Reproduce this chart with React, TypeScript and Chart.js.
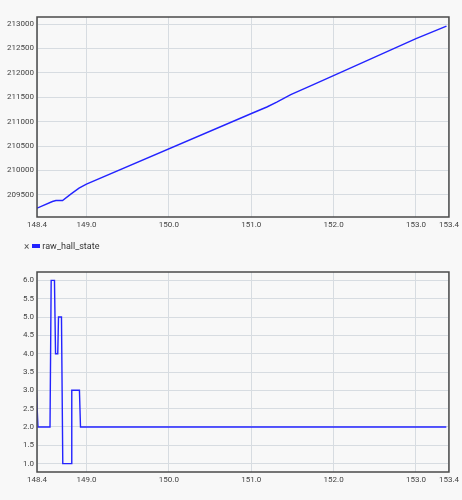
import React, { useEffect, useRef } from "react";
import { Chart, registerables } from "chart.js";

Chart.register(...registerables);

// X axis (time) ticks shared by both panels
const xTicks = [148.4, 149.0, 150.0, 151.0, 152.0, 153.0, 153.4];
const xMin = 148.4;
const xMax = 153.4;

// Top panel: counter value over time
const topYTicks = [209500, 210000, 210500, 211000, 211500, 212000, 212500, 213000];
const topYMin = 209045;
const topYMax = 213145;
const topTimes = [148.4, 148.587, 148.63, 148.71, 148.81, 148.91, 149.0, 151.01, 151.19, 151.31, 151.48, 151.72, 152.08, 153.0, 153.37];
const topValues = [209225, 209363, 209383, 209383, 209514, 209637, 209718, 211172, 211300, 211400, 211555, 211731, 212003, 212700, 212959];

// Bottom panel: raw_hall_state
const hallLabel = "raw_hall_state";
const bottomYTicks = [1.0, 1.5, 2.0, 2.5, 3.0, 3.5, 4.0, 4.5, 5.0, 5.5, 6.0];
const bottomYMin = 0.77;
const bottomYMax = 6.23;
const hallTimes = [148.392, 148.412, 148.558, 148.572, 148.612, 148.625, 148.652, 148.661, 148.697, 148.713, 148.818, 148.822, 148.915, 148.928, 153.368];
const hallValues = [3.0, 2.0, 2.0, 6.0, 6.0, 4.0, 4.0, 5.0, 5.0, 1.0, 1.0, 3.0, 3.0, 2.0, 2.0];

const LINE_COLOR = "#2323ff";
const GRID_COLOR = "#d7dce1";
const FRAME_COLOR = "#4a4a4a";
const TEXT_COLOR = "#444444";
const BG = "#f8f8f8";
const FONT = "Roboto";

const framePlugin = {
  id: "frame",
  afterDraw(chart: any) {
    const { ctx, chartArea } = chart;
    ctx.save();
    ctx.strokeStyle = FRAME_COLOR;
    ctx.lineWidth = 1.5;
    ctx.strokeRect(chartArea.left, chartArea.top, chartArea.right - chartArea.left, chartArea.bottom - chartArea.top);
    ctx.restore();
  },
};

function makeConfig(times: number[], values: number[], yTicks: number[], yMin: number, yMax: number, yFmt: (v: number) => string, label: string) {
  return {
    type: "line" as const,
    data: {
      datasets: [
        {
          label,
          data: times.map((t, i) => ({ x: t, y: values[i] })),
          borderColor: LINE_COLOR,
          backgroundColor: LINE_COLOR,
          borderWidth: 1.4,
          pointRadius: 0,
          tension: 0,
          fill: false,
        },
      ],
    },
    options: {
      responsive: false,
      maintainAspectRatio: false,
      animation: false,
      layout: { padding: { top: 17, right: 11, left: 0, bottom: 3 } },
      plugins: { legend: { display: false }, tooltip: { enabled: false } },
      scales: {
        x: {
          type: "linear",
          min: xMin,
          max: xMax,
          afterBuildTicks: (s: any) => {
            s.ticks = xTicks.map((v) => ({ value: v }));
          },
          afterFit: (s: any) => {
            s.height = 20;
          },
          grid: { color: GRID_COLOR, drawTicks: false, lineWidth: 1 },
          border: { display: false },
          ticks: {
            autoSkip: false,
            maxRotation: 0,
            padding: 3,
            color: TEXT_COLOR,
            font: { family: FONT, size: 8 },
            callback: (v: any) => Number(v).toFixed(1),
          },
        },
        y: {
          type: "linear",
          min: yMin,
          max: yMax,
          afterBuildTicks: (s: any) => {
            s.ticks = yTicks.map((v) => ({ value: v }));
          },
          afterFit: (s: any) => {
            s.width = 37;
          },
          grid: { color: GRID_COLOR, drawTicks: false, lineWidth: 1 },
          border: { display: false },
          ticks: {
            autoSkip: false,
            padding: 3,
            color: TEXT_COLOR,
            font: { family: FONT, size: 8 },
            callback: (v: any) => yFmt(Number(v)),
          },
        },
      },
    },
    plugins: [framePlugin],
  };
}

function Panel({ config, top }: { config: any; top: number }) {
  const ref = useRef<HTMLCanvasElement | null>(null);
  useEffect(() => {
    if (!ref.current) return;
    const chart = new Chart(ref.current, config);
    return () => chart.destroy();
  }, [config]);
  return (
    <canvas
      ref={ref}
      width={462}
      height={240}
      style={{ position: "absolute", left: 0, top, width: 462, height: 240, display: "block" }}
    />
  );
}

const topConfig = makeConfig(topTimes, topValues, topYTicks, topYMin, topYMax, (v) => String(Math.round(v)), "value");
const bottomConfig = makeConfig(hallTimes, hallValues, bottomYTicks, bottomYMin, bottomYMax, (v) => v.toFixed(1), hallLabel);

export default function App() {
  return (
    <div style={{ position: "fixed", left: 0, top: 0, width: 462, height: 500, background: BG, overflow: "hidden" }}>
      <Panel config={topConfig} top={0} />
      <div
        style={{
          position: "absolute",
          left: 24,
          top: 239,
          height: 14,
          display: "flex",
          alignItems: "center",
          fontFamily: FONT,
          fontSize: 9,
          color: "#333",
          whiteSpace: "nowrap",
        }}
      >
        <span style={{ fontSize: 10, color: "#555", marginRight: 3 }}>×</span>
        <span style={{ display: "inline-block", width: 8, height: 4, background: LINE_COLOR, marginRight: 2 }} />
        <span>{hallLabel}</span>
      </div>
      <Panel config={bottomConfig} top={255} />
    </div>
  );
}
